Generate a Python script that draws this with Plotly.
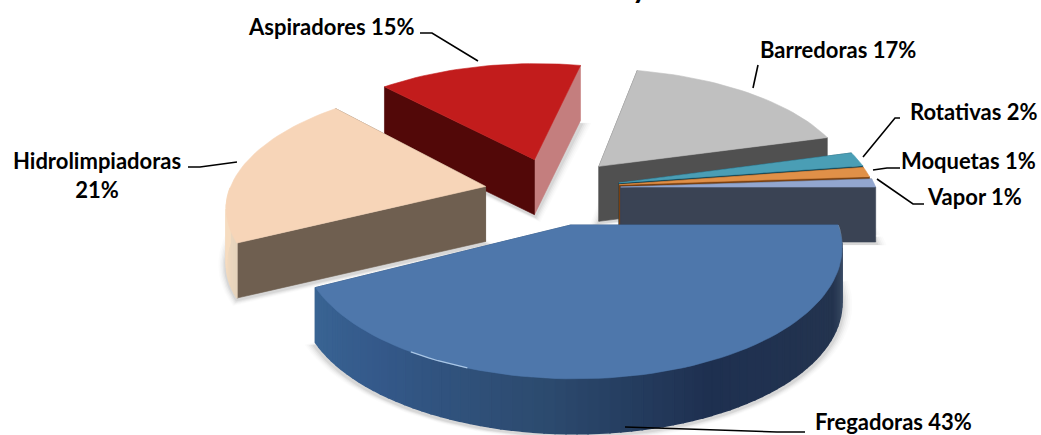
import math
import plotly.graph_objects as go

# ---- data ----
categories = ["Aspiradores", "Barredoras", "Rotativas", "Moquetas", "Vapor", "Hidrolimpiadoras", "Fregadoras"]
# estimated shares: the slice angles, consistent with the rounded labels
values = [15.2, 17.4, 1.9, 1.3, 1.1, 20.5, 42.6]
# order of the slices clockwise, starting at the right edge of Fregadoras
pie_order = ["Fregadoras", "Hidrolimpiadoras", "Aspiradores", "Barredoras", "Rotativas", "Moquetas", "Vapor"]
labels = ["Aspiradores 15%", "Barredoras 17%", "Rotativas 2%", "Moquetas 1%", "Vapor 1%", "Hidrolimpiadoras<br>21%", "Fregadoras 43%"]
title_fragment = "y"  # only the tail of one title letter is left inside the picture

# ---- look ----
top_colors = ["#c21c1c", "#c0c0c0", "#4a9eb5", "#e09048", "#92a6cf", "#f7d5b8", "#4e77ab"]
wall_start = ["#520808", "#505050", "#0e4050", "#7a4010", "#3a4354", "#6f5f50", "#2c4a6e"]
wall_end = ["#c47e7e", "#505050", "#0e4050", "#7a4010", "#3a4354", "#6f5f50", "#2c4a6e"]
arc_colors = [
    [(0, "#c47e7e"), (360, "#c47e7e")],
    [(0, "#505050"), (360, "#505050")],
    [(0, "#0e4050"), (360, "#0e4050")],
    [(0, "#7a4010"), (360, "#7a4010")],
    [(0, "#3a4354"), (360, "#3a4354")],
    [(150, "#e2d2bc"), (170, "#f6dcc0"), (240, "#f6dcc0")],
    [(0, "#8593a4"), (6, "#4a5c75"), (25, "#24344f"), (65, "#1e3050"), (95, "#2c4a6e"), (130, "#34598a"), (155, "#3a6594")],
]
pull_x = [-0.055, 0.205, 0.28, 0.28, 0.285, -0.245, 0.085]
pull_y = [-0.24, -0.18, -0.035, -0.02, 0.0, -0.005, 0.307]
paint_order = ["Aspiradores", "Barredoras", "Rotativas", "Moquetas", "Vapor", "Hidrolimpiadoras", "Fregadoras"]

X0, Y0, AX, AY, PERSP, DEPTH = 548, 187, 255, 118, 0.15, 55
FONT = "Lato"


def project(gx, gy, z=0.0):
    w = 1 - PERSP * gy
    return X0 + AX * gx / w, Y0 + AY * gy / w + z * DEPTH


def hex_rgb(c):
    return [int(c[i:i + 2], 16) for i in (1, 3, 5)]


def ramp(stops, t):
    if t <= stops[0][0]:
        return stops[0][1]
    for (a, ca), (b, cb) in zip(stops, stops[1:]):
        if t <= b:
            f = (t - a) / (b - a)
            r = [round(u + (v - u) * f) for u, v in zip(hex_rgb(ca), hex_rgb(cb))]
            return "rgb(%d,%d,%d)" % tuple(r)
    return stops[-1][1]


fig = go.Figure()


def poly(points, color, name, lw=0.6):
    xs = [p[0] for p in points] + [points[0][0]]
    ys = [p[1] for p in points] + [points[0][1]]
    fig.add_trace(go.Scatter(x=xs, y=ys, mode="lines", fill="toself", fillcolor=color,
                             line=dict(color=color, width=lw), name=name,
                             hoverinfo="skip", showlegend=False))


# angular spans derived from the values
value_of = dict(zip(categories, values))
total = sum(values)
span = {}
start = 0.0
for cat in pie_order:
    end = start + 360.0 * value_of[cat] / total
    span[cat] = (start, end)
    start = end


def ground(cat, t):
    i = categories.index(cat)
    r = math.radians(t)
    return pull_x[i] + math.cos(r), pull_y[i] + math.sin(r)


def steps(t0, t1):
    n = max(2, int((t1 - t0) / 2) + 1)
    return [t0 + (t1 - t0) * k / n for k in range(n + 1)]


# soft shadow under the slices
for grow, alpha in [(1, 0.05), (3, 0.04), (5, 0.03), (7, 0.02), (9, 0.015)]:
    for cat in paint_order:
        i = categories.index(cat)
        t0, t1 = span[cat]
        pts = [project(pull_x[i], pull_y[i], 1)]
        pts += [project(*ground(cat, t), 1) for t in steps(t0, t1)]
        cx = sum(p[0] for p in pts) / len(pts)
        cy = sum(p[1] for p in pts) / len(pts)
        sc = []
        for x, y in pts:
            d = math.hypot(x - cx, y - cy) or 1
            sc.append((x + (x - cx) / d * (grow + 2), y + (y - cy) / d * grow * 0.6 + 3))
        poly(sc, "rgba(0,0,0,%.3f)" % alpha, cat + " shadow", lw=0)

# slices, back to front
for cat in paint_order:
    i = categories.index(cat)
    t0, t1 = span[cat]
    apex = (pull_x[i], pull_y[i])
    a_top, a_bot = project(*apex), project(*apex, 1)
    g0, g1 = ground(cat, t0), ground(cat, t1)
    walls = [
        (apex[1] + g0[1], [a_top, project(*g0), project(*g0, 1), a_bot], wall_start[i]),
        (apex[1] + g1[1], [a_top, project(*g1), project(*g1, 1), a_bot], wall_end[i]),
    ]
    for depth, pts, col in sorted(walls, key=lambda w: w[0]):
        poly(pts, col, cat + " wall")
    ts = steps(t0, t1)
    for a, b in zip(ts, ts[1:]):
        if math.sin(math.radians((a + b) / 2)) < 0:
            continue  # back-facing part of the rim stays hidden
        ga, gb = ground(cat, a), ground(cat, b)
        poly([project(*ga), project(*gb), project(*gb, 1), project(*ga, 1)],
             ramp(arc_colors[i], (a + b) / 2), cat + " rim", lw=1.5)
    top = [a_top] + [project(*ground(cat, t)) for t in ts]
    poly(top, top_colors[i], cat)

# rim highlight on Fregadoras
hl = [project(*ground("Fregadoras", t)) for t in range(110, 124, 2)]
fig.add_trace(go.Scatter(x=[p[0] for p in hl], y=[p[1] for p in hl], mode="lines",
                         line=dict(color="#a9c6e6", width=1.2), hoverinfo="skip", showlegend=False))

# leader lines
leaders = [
    "M420,33 L432,33 L478,61",
    "M758,65 L753,88",
    "M900,118 L895,118 L863,157",
    "M873,170 L887,168 L900,168",
    "M877,179 L913,204 L924,204",
    "M188,167 L200,167 L237,162",
    "M625,427 L777,432 L805,432",
]
shapes = [dict(type="path", path=p, xref="x", yref="y", line=dict(color="black", width=1.6)) for p in leaders]

label_pos = [(246, 26, "left"), (758, 49, "left"), (908, 111, "left"), (899, 160, "left"),
             (925, 196, "left"), (97, 175, "center"), (813, 421, "left")]
annotations = [
    dict(x=x, y=y, text="<b>%s</b>" % t, xref="x", yref="y", showarrow=False, xanchor=a, yanchor="middle",
         align="center", font=dict(family=FONT, size=22, color="black"))
    for (x, y, a), t in zip(label_pos, labels)
]
annotations.append(dict(x=640, y=6, text="<b>%s</b>" % title_fragment, xref="x", yref="y", showarrow=False,
                        xanchor="center", yanchor="bottom", font=dict(family=FONT, size=30, color="black")))

fig.update_layout(
    width=1041, height=435, margin=dict(l=0, r=0, t=0, b=0),
    paper_bgcolor="white", plot_bgcolor="white", showlegend=False,
    xaxis=dict(range=[0, 1041], visible=False, fixedrange=True),
    yaxis=dict(range=[435, 0], visible=False, fixedrange=True),
    shapes=shapes, annotations=annotations,
)
fig.write_html("out.html", config=dict(displayModeBar=False),
               post_script="document.body.style.margin='0';document.documentElement.style.overflow='hidden';")
